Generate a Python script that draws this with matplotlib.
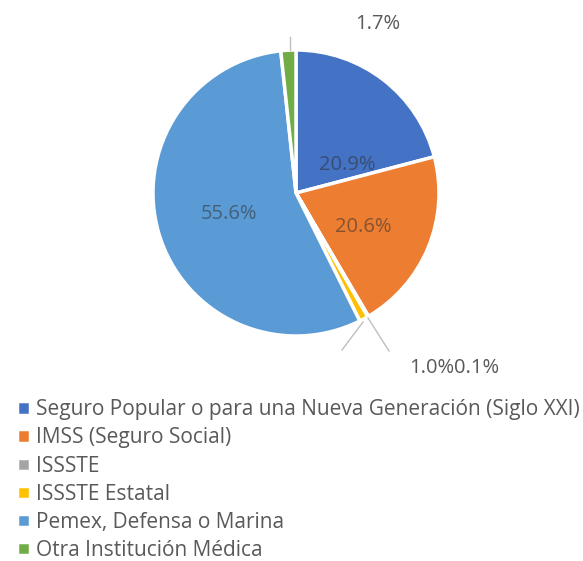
import matplotlib
matplotlib.use("Agg")
import matplotlib.pyplot as plt

categorias = ["Seguro Popular o para una Nueva Generación (Siglo XXI)",
              "IMSS (Seguro Social)",
              "ISSSTE",
              "ISSSTE Estatal",
              "Pemex, Defensa o Marina",
              "Otra Institución Médica"]
porcentajes = [20.9, 20.6, 0.1, 1.0, 55.6, 1.7]
colores = ["#4472C4", "#ED7D31", "#A5A5A5", "#FFC000", "#5B9BD5", "#70AD47"]

plt.rcParams['font.family'] = ['Open Sans', 'DejaVu Sans']

W, H = 583, 561
fig = plt.figure(figsize=(W / 100, H / 100), dpi=100)
ax = fig.add_axes([0, 0, 1, 1])
ax.set_xlim(0, W)
ax.set_ylim(0, H)
ax.set_aspect('equal')
ax.axis('off')

# pie drawn in pixel coords (y flipped by hand)
cx, cy, r = 296, H - 193, 143
wedges, _ = ax.pie(porcentajes, colors=colores, startangle=90, counterclock=False,
                   center=(cx, cy), radius=r,
                   wedgeprops=dict(edgecolor='white', linewidth=2.5))
ax.set_xlim(0, W)
ax.set_ylim(0, H)

txt = '#595959'
fs = 14.5
# data labels, positioned like the excel output
etiquetas = ["%.1f%%" % p for p in porcentajes]
ax.text(347, H - 165, etiquetas[0], fontsize=fs, color='#303030', alpha=0.55, ha='center', va='center')
ax.text(363, H - 227, etiquetas[1], fontsize=fs, color='#303030', alpha=0.55, ha='center', va='center')
ax.text(229, H - 214, etiquetas[4], fontsize=fs, color='#303030', alpha=0.55, ha='center', va='center')
ax.text(378, H - 24, etiquetas[5], fontsize=fs, color=txt, ha='center', va='center')
ax.text(454, H - 368, etiquetas[3], fontsize=fs, color=txt, ha='right', va='center')
ax.text(454, H - 368, etiquetas[2], fontsize=fs, color=txt, ha='left', va='center')

# leader lines
lc = '#BFBFBF'
ax.plot([363, 342], [H - 322, H - 350], color=lc, lw=1)
ax.plot([368, 389], [H - 318, H - 351], color=lc, lw=1)
ax.plot([290, 290], [H - 37, H - 50], color=lc, lw=1)

leg = ax.legend(wedges, categorias, loc='upper left', bbox_to_anchor=(9 / W, 1 - 391 / H),
                bbox_transform=fig.transFigure, frameon=False, fontsize=15,
                handlelength=0.6, handleheight=0.6, handletextpad=0.3,
                labelspacing=0.34, borderaxespad=0)
for t in leg.get_texts():
    t.set_color(txt)

plt.savefig('out.png', dpi=100)
